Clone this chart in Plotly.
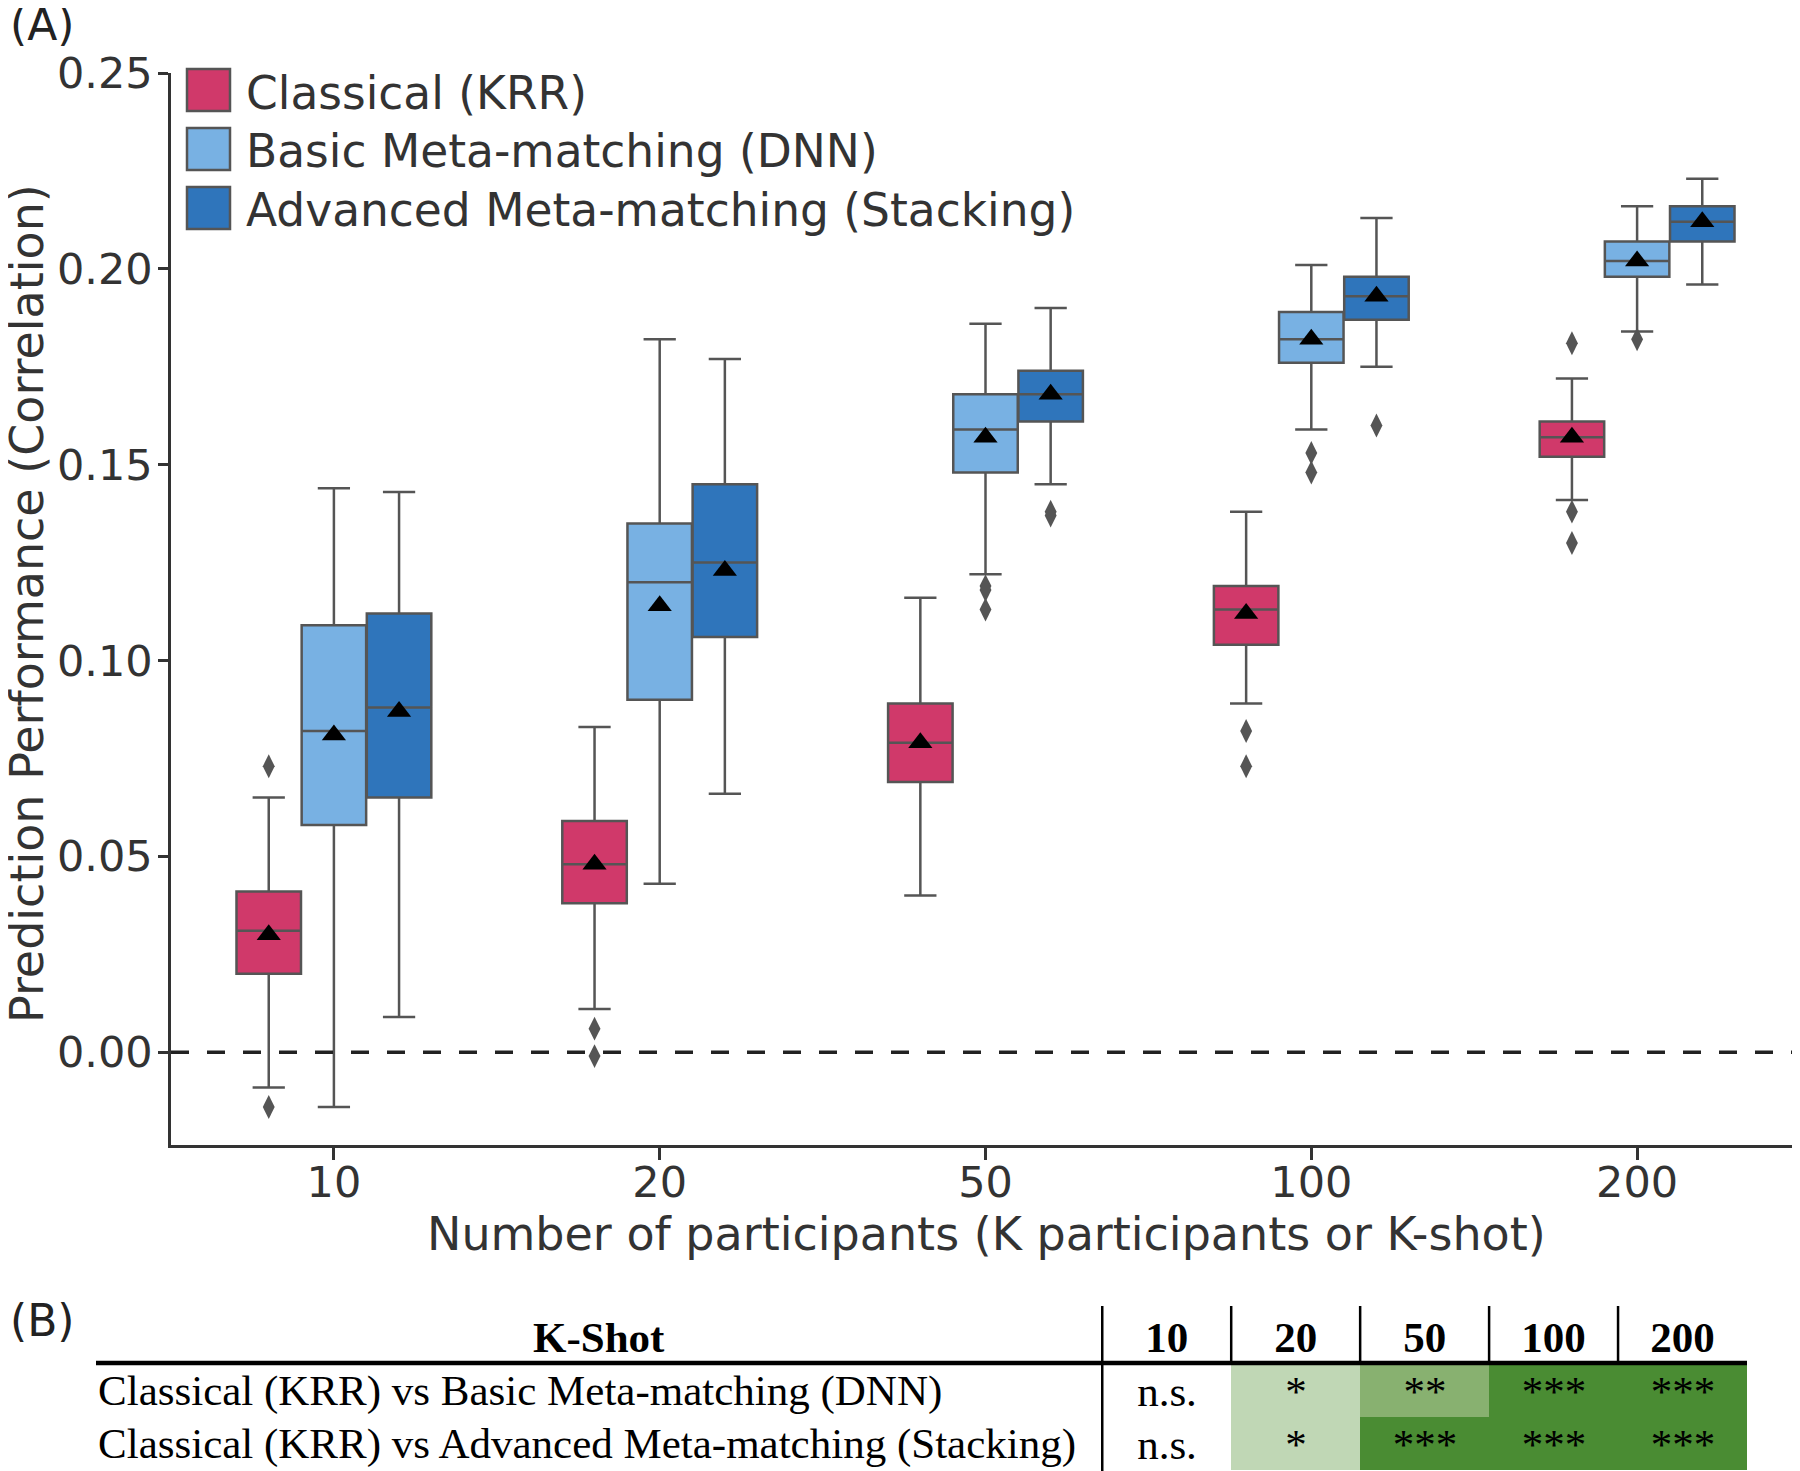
import plotly.graph_objects as go

# ---------------- data ----------------
categories = ["10", "20", "50", "100", "200"]
models = ["Classical (KRR)", "Basic Meta-matching (DNN)", "Advanced Meta-matching (Stacking)"]
colors = ["#D0396A", "#78B1E3", "#2F75BB"]

krr_lower = [-0.009, 0.011, 0.040, 0.089, 0.141]
krr_q1 = [0.020, 0.038, 0.069, 0.104, 0.152]
krr_median = [0.031, 0.048, 0.079, 0.113, 0.157]
krr_q3 = [0.041, 0.059, 0.089, 0.119, 0.161]
krr_upper = [0.065, 0.083, 0.116, 0.138, 0.172]
krr_mean = [0.030, 0.048, 0.079, 0.112, 0.157]
krr_outliers = [[0.073, -0.014], [0.006, -0.001], [], [0.082, 0.073], [0.181, 0.138, 0.130]]

dnn_lower = [-0.014, 0.043, 0.122, 0.159, 0.184]
dnn_q1 = [0.058, 0.090, 0.148, 0.176, 0.198]
dnn_median = [0.082, 0.120, 0.159, 0.182, 0.202]
dnn_q3 = [0.109, 0.135, 0.168, 0.189, 0.207]
dnn_upper = [0.144, 0.182, 0.186, 0.201, 0.216]
dnn_mean = [0.081, 0.114, 0.157, 0.182, 0.202]
dnn_outliers = [[], [], [0.119, 0.118, 0.113], [0.153, 0.148], [0.182]]

stk_lower = [0.009, 0.066, 0.145, 0.175, 0.196]
stk_q1 = [0.065, 0.106, 0.161, 0.187, 0.207]
stk_median = [0.088, 0.125, 0.168, 0.193, 0.212]
stk_q3 = [0.112, 0.145, 0.174, 0.198, 0.216]
stk_upper = [0.143, 0.177, 0.190, 0.213, 0.223]
stk_mean = [0.087, 0.123, 0.168, 0.193, 0.212]
stk_outliers = [[], [], [0.138, 0.137], [0.160], []]

table_rows = ["Classical (KRR) vs Basic Meta-matching (DNN)",
              "Classical (KRR) vs Advanced Meta-matching (Stacking)"]
table_levels = [[0, 1, 2, 3, 3], [0, 1, 3, 3, 3]]
table_text = [["n.s.", "*", "**", "***", "***"], ["n.s.", "*", "***", "***", "***"]]
level_colors = ["#FFFFFF", "#C0D7B5", "#88B170", "#4A8C33"]

# ---------------- layout constants ----------------
PAGE = 8                      # browser body margin
W, H = 1800 - PAGE, 1471 - PAGE
def px(x):
    return (x - PAGE) / W
def py(y):
    return 1 - (y - PAGE) / H

LINE = "#555555"
TXT = "#333333"
SANS = "DejaVu Sans"
SERIF = "Liberation Serif"
offsets = [-0.2, 0.0, 0.2]
box_w = 0.198

series = [
    (krr_lower, krr_q1, krr_median, krr_q3, krr_upper, krr_mean, krr_outliers),
    (dnn_lower, dnn_q1, dnn_median, dnn_q3, dnn_upper, dnn_mean, dnn_outliers),
    (stk_lower, stk_q1, stk_median, stk_q3, stk_upper, stk_mean, stk_outliers),
]

fig = go.Figure()

for k, (lo, q1, med, q3, up, mean, outl) in enumerate(series):
    xs = [i + offsets[k] for i in range(len(categories))]
    fig.add_trace(go.Box(
        x=xs, q1=q1, median=med, q3=q3, lowerfence=lo, upperfence=up,
        width=box_w, whiskerwidth=0.5, fillcolor=colors[k],
        line=dict(color=LINE, width=2.5), boxpoints=False,
        name=models[k], showlegend=False, xaxis="x", yaxis="y"))
    ox, oy = [], []
    for i, vals in enumerate(outl):
        for v in vals:
            ox.append(i + offsets[k])
            oy.append(v)
    fig.add_trace(go.Scatter(
        x=ox, y=oy, mode="markers", showlegend=False,
        marker=dict(symbol="diamond-tall", size=17, color=LINE, line=dict(width=0))))
    fig.add_trace(go.Scatter(
        x=xs, y=mean, mode="markers", showlegend=False,
        marker=dict(symbol="triangle-up", size=21, color="black", line=dict(width=0))))

# table heatmap
fig.add_trace(go.Heatmap(
    x=categories, y=table_rows, z=table_levels, text=table_text,
    texttemplate="%{text}", textfont=dict(family=SERIF, size=43, color="black"),
    colorscale=[[0, level_colors[0]], [1/3, level_colors[1]], [2/3, level_colors[2]], [1, level_colors[3]]],
    zmin=0, zmax=3, showscale=False, xgap=0, ygap=0, hoverinfo="skip",
    xaxis="x2", yaxis="y2"))

shapes = []
# zero dashed line
shapes.append(dict(type="line", xref="x", yref="y", x0=-0.5, x1=4.5, y0=0, y1=0,
                   line=dict(color="#222222", width=3.5, dash="18px,18px"), layer="above"))

annotations = []
# legend
leg_tops = [69, 128, 187]
for k, m in enumerate(models):
    t = leg_tops[k]
    shapes.append(dict(type="rect", xref="paper", yref="paper",
                       x0=px(187), x1=px(230), y0=py(t + 42), y1=py(t),
                       fillcolor=colors[k], line=dict(color=LINE, width=2.5)))
    annotations.append(dict(text=m, xref="paper", yref="paper", x=px(244), y=py(t + 24),
                            xanchor="left", yanchor="middle", showarrow=False,
                            font=dict(family=SANS, size=45.5, color=TXT)))

# axis titles & panel labels
annotations.append(dict(text="Number of participants (K participants or K-shot)", xref="paper", yref="paper",
                        x=px(986), y=py(1234), xanchor="center", yanchor="middle", showarrow=False,
                        font=dict(family=SANS, size=46, color=TXT)))
annotations.append(dict(text="Prediction Performance (Correlation)", xref="paper", yref="paper",
                        x=px(27), y=py(604), xanchor="center", yanchor="middle", showarrow=False,
                        textangle=-90, font=dict(family=SANS, size=46, color=TXT)))
annotations.append(dict(text="(A)", xref="paper", yref="paper", x=px(8), y=py(24),
                        xanchor="left", yanchor="middle", showarrow=False,
                        font=dict(family=SANS, size=44, color="#222222")))
annotations.append(dict(text="(B)", xref="paper", yref="paper", x=px(8), y=py(1320),
                        xanchor="left", yanchor="middle", showarrow=False,
                        font=dict(family=SANS, size=44, color="#222222")))

# table labels
annotations.append(dict(text="<b>K-Shot</b>", xref="paper", yref="paper", x=px(599), y=py(1337),
                        xanchor="center", yanchor="middle", showarrow=False,
                        font=dict(family=SERIF, size=43, color="black")))
for r, lab in enumerate(table_rows):
    annotations.append(dict(text=lab, xref="paper", yref="y2", x=px(96), y=lab,
                            xanchor="left", yanchor="middle", showarrow=False,
                            font=dict(family=SERIF, size=43, color="black")))

# table rules
shapes.append(dict(type="line", xref="paper", yref="paper", x0=px(96), x1=px(1747),
                   y0=py(1363), y1=py(1363), line=dict(color="black", width=4.5)))
for j in range(len(categories)):
    bottom = py(1471) if j == 0 else py(1363)
    shapes.append(dict(type="line", xref="x2", yref="paper", x0=j - 0.5, x1=j - 0.5,
                       y0=bottom, y1=py(1306), line=dict(color="black", width=2.5)))

fig.update_layout(
    width=W, height=H, margin=dict(l=0, r=0, t=0, b=0, pad=0, autoexpand=False),
    paper_bgcolor="white", plot_bgcolor="white", showlegend=False,
    shapes=shapes, annotations=annotations,
    xaxis=dict(domain=[px(171), 1.0], range=[-0.5, 4.5], automargin=False,
               tickvals=list(range(len(categories))), ticktext=categories,
               showline=True, linecolor=TXT, linewidth=2.5, mirror=False,
               ticks="outside", ticklen=12, tickwidth=2.5, tickcolor=TXT,
               ticklabelstandoff=-14,
               showgrid=False, zeroline=False,
               tickfont=dict(family=SANS, size=43, color=TXT)),
    yaxis=dict(domain=[py(1145), py(73)], range=[-0.0237, 0.25], automargin=False,
               tickvals=[0, 0.05, 0.10, 0.15, 0.20, 0.25], tickformat=".2f",
               showline=True, linecolor=TXT, linewidth=2.5,
               ticks="outside", ticklen=10, tickwidth=2.5, tickcolor=TXT,
               ticklabelstandoff=-3,
               showgrid=False, zeroline=False,
               tickfont=dict(family=SANS, size=43, color=TXT)),
    xaxis2=dict(domain=[px(1101), px(1747)], anchor="y2", side="top", automargin=False,
                type="category", tickvals=categories,
                ticktext=["<b>%s</b>" % c for c in categories],
                showline=False, showgrid=False, zeroline=False, ticks="",
                ticklabelstandoff=2,
                tickfont=dict(family=SERIF, size=43, color="black")),
    yaxis2=dict(domain=[py(1470), py(1364)], anchor="x2", type="category", automargin=False,
                autorange="reversed", showticklabels=False,
                showline=False, showgrid=False, zeroline=False, ticks=""),
)

fig.write_html("out.html")
